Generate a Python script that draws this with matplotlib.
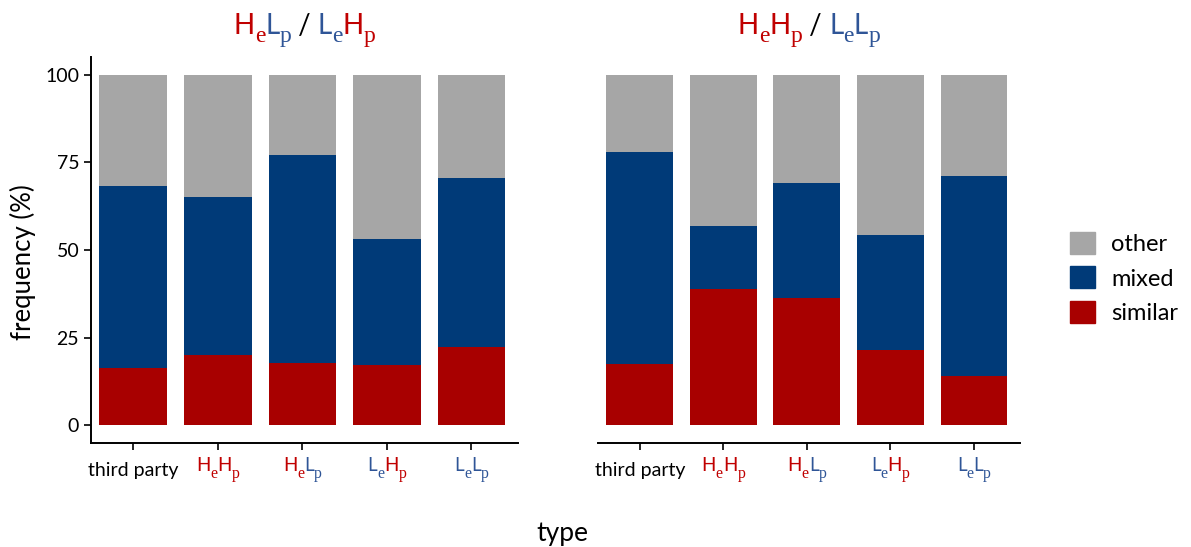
import matplotlib
matplotlib.use('Agg')
import matplotlib.pyplot as plt
import matplotlib.patches as mpatches
from matplotlib.offsetbox import (TextArea, HPacker, VPacker, DrawingArea,
                                  AnnotationBbox)
import numpy as np

plt.rcParams['font.family'] = ['Lato', 'DejaVu Sans']

# data (percent)
types = ['third party', 'HeHp', 'HeLp', 'LeHp', 'LeLp']
left_similar = [16.5, 20.2, 17.9, 17.1, 22.5]
left_mixed_top = [68.1, 65.0, 77.2, 53.0, 70.4]
right_similar = [17.4, 39.0, 36.2, 21.4, 14.0]
right_mixed_top = [77.8, 56.7, 69.2, 54.4, 71.2]

c_similar = '#A80000'
c_mixed = '#003A78'
c_other = '#A6A6A6'
c_H = '#C00000'
c_L = '#2F5597'
colour = {'H': c_H, 'L': c_L}


def subscript(s, col, size):
    # lowered serif letter: baseline of packer = top of the zero spacer
    txt = TextArea(s, textprops=dict(color=col, size=size,
                                     family='Liberation Serif'))
    return VPacker(children=[DrawingArea(0, 0), txt], align='left',
                   pad=0, sep=-0.33*size)


def rich_label(code, size):
    # code like 'HeLp' -> H_e L_p with letter colours
    boxes = []
    for k in range(0, len(code), 2):
        letter, sub = code[k], code[k+1]
        col = colour[letter]
        boxes.append(TextArea(letter, textprops=dict(color=col, size=size,
                                                     family='Lato')))
        boxes.append(subscript(sub, col, size*0.85))
    return boxes


def title_box(left, right, size):
    parts = rich_label(left, size)
    parts.append(TextArea(' / ', textprops=dict(color='black', size=size,
                                                family='Lato')))
    parts += rich_label(right, size)
    return HPacker(children=parts, align='baseline', pad=0, sep=0)


fig = plt.figure(figsize=(11.91, 5.47), dpi=100)
W, H = 1191, 547
ax1 = fig.add_axes([91/W, 1-443/H, 427/W, 386/H])
ax2 = fig.add_axes([598/W, 1-443/H, 422/W, 386/H])

x = np.arange(1, len(types)+1)
panels = [(ax1, left_similar, left_mixed_top, 'HeLp', 'LeHp'),
          (ax2, right_similar, right_mixed_top, 'HeHp', 'LeLp')]

for ax, sim, mtop, t1, t2 in panels:
    sim = np.array(sim)
    mtop = np.array(mtop)
    ax.bar(x, sim, width=0.8, color=c_similar)
    ax.bar(x, mtop-sim, bottom=sim, width=0.8, color=c_mixed)
    ax.bar(x, 100-mtop, bottom=mtop, width=0.8, color=c_other)
    ax.set_xlim(0.5, 5.55)
    ax.set_ylim(-5, 105)
    for s in ['top', 'right']:
        ax.spines[s].set_visible(False)
    ax.spines['bottom'].set_linewidth(1.4)
    ax.spines['left'].set_linewidth(1.4)
    ax.set_xticks(x)
    ax.set_xticklabels(['third party', '', '', '', ''], fontsize=14)
    ax.tick_params(axis='x', length=5, width=1.2, pad=9)
    ax.tick_params(axis='y', length=5, width=1.2, labelsize=14)
    ax.set_yticks([0, 25, 50, 75, 100])
    for xi, code in zip(x[1:], types[1:]):
        box = HPacker(children=rich_label(code, 13.5), align='baseline',
                      pad=0, sep=0)
        ab = AnnotationBbox(box, (xi, 0), xycoords=('data', 'axes fraction'),
                            xybox=(0, -10), boxcoords='offset points',
                            box_alignment=(0.5, 1), frameon=False)
        ax.add_artist(ab)
    tb = AnnotationBbox(title_box(t1, t2, 20), (0.5, 1),
                        xycoords='axes fraction', xybox=(0, 7),
                        boxcoords='offset points', box_alignment=(0.5, 0),
                        frameon=False)
    ax.add_artist(tb)

ax2.spines['left'].set_visible(False)
ax2.set_yticks([])

fig.text(23/W, 1-262/H, 'frequency (%)', fontsize=18.5, rotation=90,
         ha='center', va='center')
fig.text(562/W, 1-533/H, 'type', fontsize=19, ha='center', va='center')

handles = [mpatches.Patch(color=c_other, label='other'),
           mpatches.Patch(color=c_mixed, label='mixed'),
           mpatches.Patch(color=c_similar, label='similar')]
fig.legend(handles=handles, loc='center left', bbox_to_anchor=(1049/W, 1-278/H),
           frameon=False, fontsize=17, handlelength=1.05, handleheight=1.05,
           labelspacing=0.5, handletextpad=0.68)

fig.savefig('out.png', dpi=100)
